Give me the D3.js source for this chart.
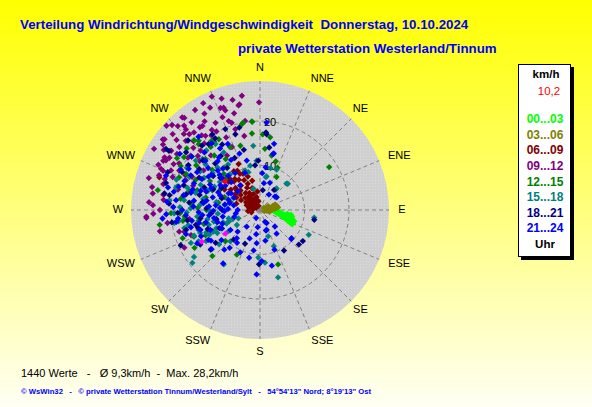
<html>
<head>
<meta charset="utf-8">
<script src="https://cdn.jsdelivr.net/npm/d3@7"></script>
<style>
body { margin: 0; }
text { font-family: "Liberation Sans", Arial, sans-serif; }
</style>
</head>
<body>
<svg width=592 height=407></svg>
<script>
// [richtung in grad, geschwindigkeit km/h], je 3-stunden-block
const g0003 = [[84,2.5],[88,2.8],[92,3.0],[95,3.2],[90,3.5],[97,3.6],[100,3.8],[94,4.0],[99,4.2],[103,4.4],[97,4.6],[101,4.8],
  [105,5.0],[99,5.1],[103,5.3],[107,5.5],[101,5.7],[105,5.9],[109,6.0],[98,6.2],[103,6.3],[107,6.5],[111,6.6],[100,6.8],
  [104,6.9],[109,7.1],[113,7.3],[99,7.1],[102,7.4],[106,7.6],[111,7.8],[114,7.9],[108,8.1],[112,8.0]];
const g0306 = [[60,1.0],[70,1.5],[65,2.0],[75,2.3],[80,2.7],[72,3.0],[78,3.3],[84,3.6],[76,3.9],[82,4.1],[88,2.0],[95,1.4],
  [105,1.0],[90,2.6],[100,2.2],[86,3.2],[70,3.6],[92,1.8]];
const g0609 = [[300,1.0],[320,1.2],[340,1.0],[310,1.8],[330,1.9],[295,2.2],[315,2.5],[335,2.6],[305,3.0],[325,3.1],[345,3.0],
  [300,3.6],[318,3.8],[338,3.9],[310,4.3],[328,4.5],[298,4.8],[320,5.0],[340,5.2],[308,5.5],[330,5.8],[315,6.2],[335,6.5],
  [302,6.6],[322,7.0],[312,7.4],[332,7.6],[305,8.0],[325,8.3],[318,8.7],[335,9.0],[312,9.5],[330,10.2],[335,11.4],[288,23.8],
  [280,2.5],[265,2.7],[255,2.0],[350,2.0],[290,3.2],[285,5.5],[300,9.2],[345,6.8],[352,4.2],[275,1.6],[321,9.0],[331,9.3],
  [316,9.8],[326,10.5],[340,8.0],[310,6.8],[298,6.0],[325,4.0],[315,3.4]];
const g0912 = [[337,27.7],[320,27.2],[306,27.0],[312,28.3],[359.5,24.2],[349,24.2],[342,20.6],[350.5,20.3],[320.6,26.8],
  [306.5,26.7],[315.6,26.4],[338.8,24.6],[340.8,23.7],[340.6,21.2],[325.6,22.9],[319.6,22.9],[313,22.8],[303.7,24.0],
  [315,18.9],[297.8,23.9],[308,19.8],[323.7,20.7],[297,24.4],[292,23.5],[298.9,24.5],[278.8,24.4],[272.6,24.1],[266.7,25.6],
  [294,21.9],[254,17.7],[243.5,19.0],[255,18.8],[266,25.6],[262.8,16.0],[317.4,24.6],[340.4,24.4],[348.4,24.0],[292.6,24.1],
  [290.7,21.0],[310,24.5],[316,21.5],[322,25.0],[328,23.5],[331,20.2],[334,25.6],[300,21.0],[304,22.5],[309,17.5],[313,20.5],
  [318,16.5],[326,18.5],[333,22.0],[345,22.5],[351,26.0],[302,19.0],[296,20.2],[288,22.5],[284,19.0],[282,24.8],[276,21.8],
  [270,22.5],[262,21.0],[258,23.0],[250,16.5],[286,26.0],[311,26.0],[327,26.8],[335,18.0],[320,19.5],[305,15.5],[296,17.0],
  [290,16.0],[280,17.5],[300,27.5],[315,24.2],[329,21.0],[343,19.0],[336,15.5],[348,17.0],[328.8,14.3],[291.8,18.0],
  [308,23.0],[314,27.5],[318,25.5],[324,23.0],[330,25.0],[332,27.2],[338,22.5],[341,26.5],[346,25.5],[302,25.5],[298,22.0],
  [294,25.0],[289,24.0],[285,22.5],[279,22.0],[274,25.0],[268,24.0],[306,20.0],[311,18.5],[317,23.3],[322,21.3],[327,20.0],
  [300,23.5],[295,18.5],[304,26.3]];
const g1215 = [[355,19.9],[349,20.0],[4.6,13.8],[8,16.5],[22.5,10.3],[58.2,18.3],[316.7,21.6],[325,19.0],[299,20.4],[292,19.6],
  [286,19.3],[261.6,22.8],[267.7,18.0],[287.5,14.8],[292.5,11.6],[312,10.5],[285.5,6.9],[343,15.1],[334.6,15.6],[329.8,18.4],
  [317,20.2],[313,16.8],[304.8,20.8],[226,14.9],[228,10.5],[207.4,11.3],[161.6,12.9],[250,18.5],[281,23.4],[318.5,20.8],
  [348,19.7],[354.7,20.0],[270,12.0],[275,15.5],[280,9.5],[295,16.0],[300,13.0],[305,17.5],[310,14.0],[320,12.5],[260,14.0],
  [255,10.0],[265,17.0],[290,8.5],[283,12.5],[298,10.0],[308,19.5],[245,13.5],[240,17.0],[320,16.0],[326,13.8],[2,17.0],
  [12,12.5],[18,11.5],[354,17.3],[26.6,8.3],[262,17.5],[268,20.0],[278,18.0],[285,16.5],[296,18.5],[302,22.0],[310,21.5],
  [315,11.5],[322,18.0],[272,14.0],[256,13.0],[248,16.0]];
const g1518 = [[356,11.1],[339.4,9.5],[347.5,10.2],[45,8.4],[37.7,5.8],[51.5,4.7],[307.6,18.2],[267.8,19.3],[261.3,19.5],
  [256.6,17.5],[244.5,17.2],[248.7,15.9],[241.7,10.9],[247.9,12.8],[250.8,9.0],[237,6.2],[249,5.2],[255,7.3],[256,10.7],
  [264,14.2],[271.4,15.6],[277.4,17.2],[234.6,18.2],[232,19.3],[213.7,14.7],[223.4,9.7],[162.7,6.2],[165,15.7],[182,10.7],
  [174.6,11.9],[343,5.0],[11,7.7],[37.6,6.1],[46.7,8.6],[98,12.3],[117,12.3],[159,8.7],[22.3,9.8],[14.2,9.7],[10.2,7.5],
  [343,8.9],[354,14.5],[311.6,17.3],[327.8,15.3],[326,17.9],[260,12.0],[265,9.5],[270,11.5],[275,13.5],[280,10.0],[285,15.0],
  [290,12.5],[295,17.5],[300,14.5],[305,11.0],[310,16.0],[315,13.5],[320,10.5],[252,14.5],[258,16.5],[245,11.5],[240,14.0],
  [236,8.5],[230,12.0],[285,19.5],[276,20.5],[268,16.5],[290,20.0],[300,19.0],[249,14.4],[247,13.1],[246,11.7],[247.5,10.6],
  [245,9.8],[248,8.1],[250,7.4],[252,6.4],[244,12.6],[251,8.7],[262,18.5],[272,18.0],[281,13.0],[287,17.0],[293,14.5],
  [297,11.5],[303,16.0],[308,13.5],[318,18.0],[325,12.5],[254,12.0],[243,15.5],[266,13.5],[278,8.0]];
const g1821 = [[303,24.4],[327.8,20.1],[336.8,19.8],[342,17.9],[322,18.8],[308,21.1],[303,25.2],[292.3,22.4],[353.7,10.1],
  [279.3,20.6],[279.8,21.8],[255,17.2],[257,14.8],[233.5,12.4],[231.3,14.2],[221.7,8.9],[204,8.3],[181,12.2],[149.4,10.6],
  [100.3,12.4],[126,11.9],[131.7,11.7],[5,17.1],[358,11.1],[345.9,19.1],[262,13.5],[268,18.5],[272,12.0],[276,16.0],
  [284,14.0],[288,18.0],[294,11.5],[298,15.5],[302,19.0],[306,13.0],[311,17.0],[316,14.5],[324,15.0],[330,17.0],[300,10.0],
  [287,9.0],[270,8.5],[258,10.0],[250,12.5],[240,15.5],[246,19.5],[262,20.0],[314,22.5],[334,13.0],[345,14.0],[8,4.5],
  [35,5.5],[8.4,14.2],[4.4,17.5],[266,11.0],[278,13.0],[282,17.0],[292,13.5],[296,19.5],[304,16.5],[309,11.5],[318,19.5],
  [322,12.0],[328,19.0],[262,16.5],[254,14.5],[246,10.0],[274,20.5],[286,22.0]];
const g2124 = [[153,3.3],[138,5.0],[189,5.5],[132.8,9.6],[192.8,11.0],[178,11.5],[189,9.2],[205,10.5],[214.6,14.6],[231,14.0],
  [170,7.0],[160,9.5],[145,6.5],[200,6.8],[215,9.0],[222,12.0],[183,14.5],[168,12.8],[206,2.0],[187.6,3.9],[163.8,4.8],
  [185.7,7.5],[218.7,10.9],[240,13.4],[219.5,8.2],[218.5,4.8],[131.8,9.5],[157,2.9],[161.5,4.7],
  [4.3,19.7],[13,12.9],[48,4.5],[3.5,8.3],[7.5,9.7],[13.7,13.1],[8.3,6.1],[52.8,4.7],[12,15.2],[30,4.0],[20,6.5],
  [276,10.0],[288,14.0],[266,16.7],[236,8.0],[321,7.1],[251.6,14.1],[276.7,19.0],[312,16.5],[296.6,17.4],[267.4,21.1],
  [283.8,21.3],[260,8.5],[264,11.5],[268,13.8],[272,7.2],[280,12.2],[284,16.0],[290,9.5],[294,12.0],[298,14.8],[302,10.5],
  [306,13.5],[310,11.0],[314,9.0],[318,12.5],[322,15.0],[326,10.0],[330,13.0],[258,14.0],[254,10.0],[248,12.0],[244,9.5],
  [242,16.0],[252,17.5],[262,19.0],[270,17.5],[278,15.0],[286,19.0],[292,16.0],[300,18.5],[308,19.5],[316,18.0],[324,18.5],
  [334,16.5],[340,13.5],[280,6.0],[295,6.5],[310,6.5],[270,5.0],[255,6.0],[298,8.0],[285,11.0],[275,21.0],[265,22.0],
  [290,22.5],[305,22.0],[320,21.5],[338,9.0],[345,11.5],[262,5.5],[232,11.0],[238,13.0],[226,7.0],
  [273,9.0],[279,8.0],[283,7.0],[289,12.8],[293,10.2],[297,12.6],[301,16.5],[305,9.5],[309,15.0],[313,13.0],[317,10.5],
  [257,12.5],[261,15.5],[265,13.0],[269,10.5],[273,15.0],[277,12.8],[281,17.5],[287,15.8],[291,18.2],[297,20.0],[303,13.8],
  [311,12.0],[319,14.5],[327,16.5],[250,9.0],[246,14.5],[256,16.0],[264,18.5],[272,19.5],[282,19.8],[288,7.5],[300,7.5],
  [274,11.5],[268,8.0],[260,10.5]];
const markedPoints = [[235.6,9.4],[241.5,14.9]];
const currentPoint = [[309,10.2]];

const groups = [g0003, g0306, g0609, g0912, g1215, g1518, g1821, g2124];
const groupLabels = ['00...03', '03...06', '06...09', '09...12', '12...15', '15...18', '18...21', '21...24'];
const groupColors = ['#00ff00', '#808000', '#800000', '#800080', '#008000', '#008080', '#000080', '#0000ff'];
const directions = ['N','NNE','NE','ENE','E','ESE','SE','SSE','S','SSW','SW','WSW','W','WNW','NW','NNW'];
const ringValues = [10, 20];
const currentSpeed = '10,2';
const summary = '1440 Werte   -   \u00d8 9,3km/h  -  Max. 28,2km/h';
const footer = '\u00a9 WsWin32   -   \u00a9 private Wetterstation Tinnum/Westerland/Sylt   -   54\u00b054\'13" Nord; 8\u00b019\'13" Ost';

const svg = d3.select('svg');
const cx = 260, cy = 210, R = 129;
const r = d3.scaleLinear().domain([0, 29]).range([0, R]);
const a = d3.scaleLinear().domain([0, 360]).range([0, 2 * Math.PI]);
const px = d => cx + r(d[1]) * Math.sin(a(d[0]));
const py = d => cy - r(d[1]) * Math.cos(a(d[0]));

const defs = svg.append('defs');
const bg = defs.append('linearGradient').attr('id', 'bg').attr('x1', 0).attr('y1', 0).attr('x2', 0).attr('y2', 1);
bg.append('stop').attr('offset', '0%').attr('stop-color', '#ffff00');
bg.append('stop').attr('offset', '100%').attr('stop-color', '#fffff4');
const pat = defs.append('pattern').attr('id', 'dots').attr('width', 3).attr('height', 3).attr('patternUnits', 'userSpaceOnUse');
pat.append('rect').attr('width', 3).attr('height', 3).attr('fill', '#d0d0d0');
pat.append('rect').attr('width', 1).attr('height', 1).attr('fill', '#dcdcdc');

svg.append('rect').attr('width', 592).attr('height', 407).attr('fill', 'url(#bg)');

// titel
svg.append('text').attr('x', 20).attr('y', 29).attr('fill', '#0000ff').attr('font-weight', 'bold').attr('font-size', 13.3)
  .text('Verteilung Windrichtung/Windgeschwindigkeit\u00a0 Donnerstag, 10.10.2024');
svg.append('text').attr('x', 238).attr('y', 53).attr('fill', '#0000ff').attr('font-weight', 'bold').attr('font-size', 13.3)
  .text('private Wetterstation Westerland/Tinnum');

// diagramm
const plot = svg.append('g');
plot.append('circle').attr('cx', cx).attr('cy', cy).attr('r', R).attr('fill', 'url(#dots)');
plot.selectAll('.ring').data(ringValues).enter().append('circle')
  .attr('cx', cx).attr('cy', cy).attr('r', d => r(d))
  .attr('fill', 'none').attr('stroke', '#808080').attr('stroke-dasharray', '4,3');
plot.selectAll('.spoke').data(directions).enter().append('line')
  .attr('x1', cx).attr('y1', cy)
  .attr('x2', (d, i) => cx + R * Math.sin(a(i * 22.5)))
  .attr('y2', (d, i) => cy - R * Math.cos(a(i * 22.5)))
  .attr('stroke', '#808080').attr('stroke-dasharray', '4,3');
plot.selectAll('.ringlabel').data(ringValues).enter().append('text')
  .attr('x', cx + 4).attr('y', d => cy - r(d) + 2).attr('font-size', 11).attr('dominant-baseline', 'middle')
  .text(d => d);
plot.selectAll('.dir').data(directions).enter().append('text')
  .attr('x', (d, i) => cx + 142 * Math.sin(a(i * 22.5)) + (i % 2 ? Math.sign(Math.sin(a(i * 22.5))) * 8 : 0))
  .attr('y', (d, i) => cy - 142 * Math.cos(a(i * 22.5)))
  .attr('text-anchor', 'middle').attr('dominant-baseline', 'middle').attr('font-size', 11)
  .text(d => d);

const diamond = d3.symbol().type(d3.symbolSquare).size(20);
function drawPoints(data, color) {
  plot.append('g').selectAll('path').data(data).enter().append('path')
    .attr('d', diamond)
    .attr('transform', d => 'translate(' + px(d) + ',' + py(d) + ') rotate(45)')
    .attr('fill', color);
}
groups.forEach((g, i) => drawPoints(g, groupColors[i]));
drawPoints(markedPoints, '#ff00ff');
drawPoints(currentPoint, '#ff0000');

// legende
const lg = svg.append('g');
lg.append('rect').attr('x', 521).attr('y', 67).attr('width', 53).attr('height', 193).attr('fill', '#000');
lg.append('rect').attr('x', 518.5).attr('y', 64.5).attr('width', 52).attr('height', 192).attr('fill', '#fff').attr('stroke', '#000');
lg.append('text').attr('x', 546).attr('y', 75).attr('text-anchor', 'middle').attr('dominant-baseline', 'middle')
  .attr('font-size', 11.5).attr('font-weight', 'bold').text('km/h');
lg.append('text').attr('x', 549).attr('y', 92).attr('text-anchor', 'middle').attr('dominant-baseline', 'middle')
  .attr('font-size', 11.5).attr('fill', '#ff0000').text(currentSpeed);
lg.selectAll('.gl').data(groupLabels).enter().append('text')
  .attr('x', 545).attr('y', (d, i) => 120 + i * 15.6).attr('text-anchor', 'middle').attr('dominant-baseline', 'middle')
  .attr('font-size', 12).attr('font-weight', 'bold').attr('fill', (d, i) => groupColors[i]).text(d => d);
lg.append('text').attr('x', 545).attr('y', 245).attr('text-anchor', 'middle').attr('dominant-baseline', 'middle')
  .attr('font-size', 11.5).attr('font-weight', 'bold').text('Uhr');

// fusszeilen
svg.append('text').attr('x', 21).attr('y', 377).attr('font-size', 11)
  .style('white-space', 'pre').text(summary);
svg.append('text').attr('x', 21).attr('y', 394).attr('font-size', 7.7).attr('font-weight', 'bold').attr('fill', '#0000ff')
  .style('white-space', 'pre').text(footer);
</script>
</body>
</html>
